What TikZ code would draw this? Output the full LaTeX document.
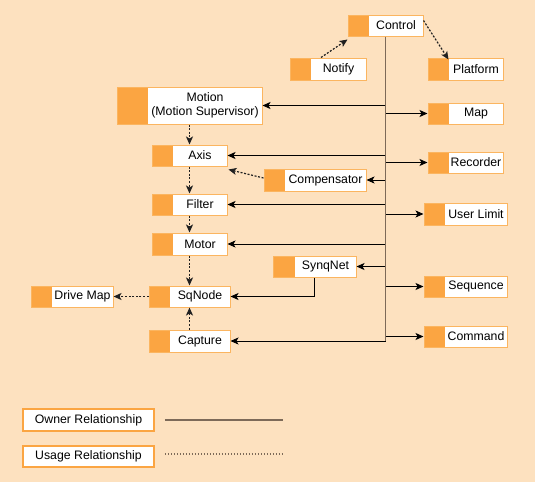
\documentclass[tikz,border=0pt]{standalone}
\usepackage{fontspec}
\setmainfont{Liberation Sans}
\usetikzlibrary{arrows.meta,calc}
\definecolor{bg}{HTML}{FDE1BF}
\definecolor{org}{HTML}{FBA542}
\definecolor{orgline}{HTML}{FBB560}
\definecolor{trunkc}{HTML}{7D6A58}
\definecolor{dotc}{HTML}{202020}
\newcommand\ubox[7]{%
  \node[ubx, minimum width={#4-#2}, minimum height={#5-#3},
    path picture={\fill[org] (path picture bounding box.north west) rectangle ([xshift=#6]path picture bounding box.south west);}]
    (#1) at ({(#2+#4)/2},{(#3+#5)/2}) {};
  \node[lbl] at ({(#2+#6+#4)/2},{(#3+#5)/2}) {#7};
}
\begin{document}
\begin{tikzpicture}[x=1pt,y=-1pt,
  ubx/.style={draw=orgline, line width=1pt, fill=white, inner sep=0pt},
  lbl/.style={font=\fontsize{12.3}{14}\selectfont, text=black, inner sep=0pt, align=center},
  legbox/.style={draw=org, line width=1.6pt, fill=white, inner sep=0pt, font=\fontsize{12.3}{14}\selectfont, text=black},
  tip/.style={-{Stealth[length=8pt,width=7pt,inset=2pt]}},
  own/.style={tip, draw=black, line width=0.9pt},
  use/.style={tip, draw=dotc, line width=1.2pt, dash pattern=on 2pt off 1.6pt},
  trunk/.style={draw=trunkc, line width=1.6pt},
  legdot/.style={draw=trunkc, line width=1.3pt, dash pattern=on 1.5pt off 1.5pt}]
\fill[bg] (0,0) rectangle (535,482);
\useasboundingbox (0,0) rectangle (535,482);

\ubox{ctl}{348}{15}{423}{36}{21}{Control}
\ubox{notify}{290}{58}{366}{80}{21}{Notify}
\ubox{platform}{428}{58}{503}{80}{21}{Platform}
\ubox{motion}{117}{87}{262}{124}{31}{Motion\\(Motion Supervisor)}
\ubox{axis}{152}{145}{227}{166}{21}{Axis}
\ubox{comp}{264}{169}{366}{191}{21}{Compensator}
\ubox{filter}{152}{194}{227}{215}{21}{Filter}
\ubox{motor}{152}{233}{227}{255}{21}{Motor}
\ubox{synq}{273}{256}{356}{277}{22}{SynqNet}
\ubox{sq}{149}{286}{230}{307}{21}{SqNode}
\ubox{drive}{31}{286}{113}{307}{21}{Drive Map}
\ubox{capture}{149}{330}{230}{352}{21}{Capture}
\ubox{map}{428}{103}{503}{124}{21}{Map}
\ubox{rec}{428}{152}{503}{173}{21}{Recorder}
\ubox{ulim}{424}{203}{507}{225}{21}{User Limit}
\ubox{seq}{424}{276}{507}{297}{21}{Sequence}
\ubox{cmd}{424}{326}{507}{347}{21}{Command}

% owner connectors from trunk
\foreach \n in {motion,axis,comp,filter,motor,synq,capture}
  \draw[own] (ctl.south |- \n.east) -- (\n.east);
\foreach \n in {map,rec,ulim,seq,cmd}
  \draw[own] (ctl.south |- \n.west) -- (\n.west);
\draw[trunk] (ctl.south) -- (ctl.south |- capture.east);
\draw[own] (synq.south) |- (sq.east);

% usage connectors
\draw[use] ([xshift=-7pt]notify.north) -- ([yshift=-3pt]ctl.south west);
\draw[use] ([yshift=5pt]ctl.east) -- ([xshift=21pt,yshift=-2pt]platform.north west);
\draw[use] (motion.south -| axis.north) -- (axis.north);
\draw[use] ([yshift=2pt]comp.west) -- ([xshift=1pt,yshift=-3pt]axis.south east);
\draw[use] (axis.south) -- (filter.north);
\draw[use] (filter.south) -- (motor.north);
\draw[use] (motor.south) -- (sq.north);
\draw[use] (capture.north) -- (sq.south);
\draw[use] (sq.west) -- (drive.east);

% legend
\node[legbox, minimum width=131pt, minimum height=22pt] (lown) at (88.5,420) {Owner Relationship};
\node[legbox, minimum width=131pt, minimum height=21pt] (luse) at (88.5,456.5) {Usage Relationship};
\coordinate (lownend) at (283,420);
\coordinate (luseend) at (283,454);
\draw[trunk, line width=1.3pt] ([xshift=10pt]lown.east) -- (lownend);
\draw[legdot] ([xshift=10pt]luse.east |- luseend) -- (luseend);
\end{tikzpicture}
\end{document}
